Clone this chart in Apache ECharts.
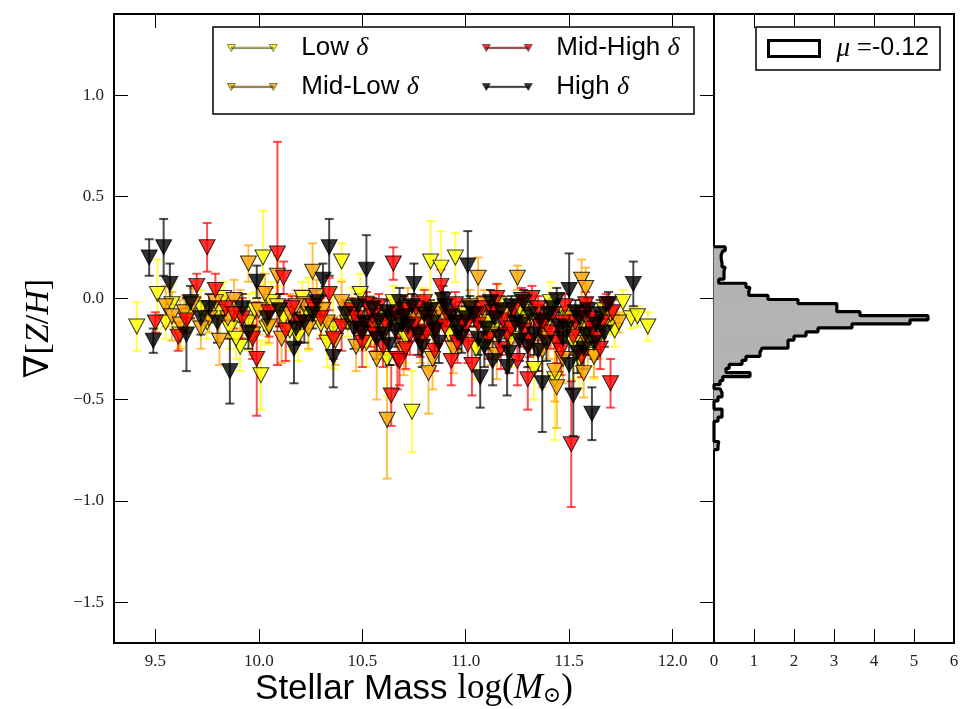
<!DOCTYPE html>
<html><head><meta charset="utf-8">
<script src="https://cdn.jsdelivr.net/npm/echarts@6/dist/echarts.min.js"></script>
<style>html,body{margin:0;padding:0;background:#fff}#c{width:962px;height:709px}</style>
</head><body><div id="c"></div>
<script>
// ---------- tick labels ----------
const xTicks = [9.5, 10.0, 10.5, 11.0, 11.5, 12.0];
const yTicks = [-1.5, -1.0, -0.5, 0.0, 0.5, 1.0];
const histTicks = [0, 1, 2, 3, 4, 5, 6];

// ---------- Low delta ----------
const lowX = [9.41,9.51,9.55,9.62,9.72,9.80,9.86,9.91,9.95,10.01,10.02,10.06,10.12,10.19,10.24,10.30,10.36,10.40,10.45,10.52,10.58,10.62,10.68,10.74,10.79,10.83,10.88,10.92,10.95,11.00,11.05,11.10,11.16,11.22,11.28,11.33,11.38,11.43,11.48,11.52,11.57,11.62,11.67,11.72,11.76,11.80,11.83,11.88,
  9.58,9.66,9.75,9.83,9.89,9.98,10.04,10.09,10.15,10.21,10.27,10.33,10.43,10.49,10.55,10.65,10.71,10.85,11.13,11.26,11.41,11.55,11.70];
const lowY = [-0.14,0.02,-0.12,-0.18,-0.05,-0.07,-0.15,-0.24,-0.12,-0.38,0.20,-0.02,-0.10,-0.19,-0.08,-0.13,-0.15,0.18,-0.05,-0.22,-0.10,-0.30,-0.12,-0.56,-0.07,0.18,0.15,-0.18,0.20,-0.08,-0.25,-0.12,-0.03,-0.20,-0.10,-0.35,-0.15,-0.40,-0.08,-0.22,-0.12,-0.28,-0.06,-0.16,-0.02,-0.10,-0.09,-0.14,
  -0.03,-0.09,-0.12,0.00,-0.20,-0.06,-0.15,-0.04,-0.16,0.00,-0.06,-0.22,-0.12,0.02,-0.14,-0.02,-0.20,-0.10,-0.16,-0.05,-0.02,-0.30,-0.12];
const lowErr = [0.12,0.17,0.08,0.06,0.09,0.05,0.10,0.12,0.14,0.17,0.23,0.10,0.07,0.12,0.18,0.05,0.20,0.09,0.10,0.12,0.06,0.18,0.08,0.20,0.12,0.20,0.18,0.10,0.12,0.06,0.15,0.08,0.10,0.14,0.05,0.15,0.10,0.30,0.07,0.18,0.05,0.12,0.06,0.08,0.06,0.05,0.05,0.07,
  0.10,0.07,0.08,0.08,0.10,0.09,0.08,0.10,0.10,0.08,0.07,0.12,0.07,0.10,0.10,0.08,0.12,0.08,0.10,0.07,0.10,0.15,0.06];

// ---------- Mid-Low delta ----------
const midLowX = [9.55,9.58,9.62,9.68,9.76,9.81,9.88,9.95,10.00,10.05,10.09,10.15,10.22,10.26,10.28,10.33,10.37,10.44,10.50,10.57,10.62,10.67,10.72,10.78,10.82,10.84,10.90,10.97,11.02,11.06,11.12,11.18,11.25,11.30,11.37,11.43,11.44,11.50,11.56,11.58,11.59,11.62,11.57,11.66,11.70,
  9.64,9.72,9.79,9.85,9.91,9.97,10.03,10.11,10.18,10.24,10.31,10.40,10.47,10.54,10.60,10.70,10.76,10.87,10.94,11.09,11.15,11.21,11.34,11.40,11.47,11.53,11.64,11.74];
const midLowY = [-0.04,-0.09,-0.13,-0.03,-0.10,-0.21,-0.01,0.17,-0.06,-0.14,0.11,-0.08,-0.03,0.13,0.01,-0.12,-0.21,-0.08,-0.16,-0.30,-0.60,-0.12,-0.05,-0.20,-0.37,-0.30,-0.10,-0.14,-0.04,0.10,-0.18,-0.08,0.10,-0.12,-0.26,-0.36,-0.44,-0.10,0.09,0.05,-0.22,-0.29,-0.37,-0.14,-0.08,
  -0.07,-0.15,-0.02,-0.10,-0.08,-0.18,0.02,-0.20,-0.04,-0.15,-0.06,-0.02,-0.24,-0.06,-0.15,-0.26,-0.10,-0.06,-0.25,-0.03,-0.28,-0.15,-0.07,-0.20,-0.30,-0.16,-0.20,-0.12];
const midLowErr = [0.10,0.12,0.12,0.08,0.07,0.12,0.10,0.09,0.12,0.08,0.10,0.10,0.07,0.14,0.08,0.10,0.12,0.06,0.10,0.20,0.29,0.08,0.10,0.12,0.20,0.15,0.06,0.12,0.08,0.10,0.15,0.05,0.06,0.10,0.18,0.15,0.20,0.06,0.10,0.10,0.12,0.10,0.12,0.06,0.05,
  0.08,0.10,0.08,0.10,0.12,0.10,0.10,0.12,0.08,0.10,0.08,0.10,0.12,0.07,0.10,0.12,0.07,0.08,0.12,0.07,0.12,0.08,0.08,0.10,0.12,0.08,0.10,0.05];

// ---------- Mid-High delta ----------
const midHighX = [9.50,9.61,9.70,9.75,9.79,9.84,9.92,9.97,9.99,10.05,10.09,10.12,10.13,10.20,10.26,10.30,10.34,10.40,10.45,10.50,10.54,10.58,10.64,10.65,10.67,10.68,10.73,10.78,10.82,10.88,10.93,10.98,11.03,11.08,11.15,11.20,11.25,11.30,11.32,11.38,11.44,11.48,11.51,11.56,11.60,11.66,11.70,11.71,
  10.47,10.52,10.56,10.61,10.70,10.75,10.80,10.86,10.91,10.96,11.00,11.05,11.11,11.18,11.23,11.28,11.35,11.41,11.46,11.53,11.58,11.63,11.68,10.16,10.36,9.88,9.65,
  10.49,10.55,10.60,10.66,10.71,10.76,10.81,10.85,10.90,10.95,11.01,11.06,11.13,11.17,11.22,11.27,11.31,11.36,11.42,11.47,11.52,11.57,11.61,11.65];
const midHighY = [-0.12,-0.19,0.06,0.25,0.04,-0.05,-0.10,-0.20,-0.30,-0.07,0.22,0.10,-0.16,-0.12,-0.04,-0.10,0.02,-0.14,-0.06,-0.22,-0.14,-0.04,-0.48,0.17,-0.30,-0.31,-0.18,-0.21,-0.10,0.06,-0.31,-0.12,-0.33,-0.05,0.00,-0.18,-0.31,-0.40,0.00,-0.12,-0.22,-0.04,-0.72,-0.29,-0.10,-0.12,-0.42,-0.07,
  -0.10,-0.03,-0.18,-0.12,-0.06,-0.13,-0.02,-0.15,-0.08,-0.22,-0.14,-0.08,-0.20,-0.11,-0.06,-0.16,-0.05,-0.17,-0.26,-0.12,-0.03,-0.20,-0.03,-0.05,-0.20,-0.08,-0.11,
  -0.16,-0.09,-0.24,-0.08,-0.25,-0.05,-0.17,-0.26,-0.14,-0.03,-0.23,-0.13,-0.07,-0.25,-0.15,-0.01,-0.21,-0.14,-0.08,-0.12,-0.19,-0.08,-0.15,-0.25];
const midHighErr = [0.05,0.07,0.06,0.12,0.08,0.06,0.10,0.10,0.28,0.12,0.55,0.08,0.15,0.10,0.07,0.10,0.08,0.12,0.06,0.12,0.10,0.06,0.15,0.08,0.15,0.12,0.10,0.08,0.06,0.08,0.12,0.10,0.15,0.06,0.07,0.10,0.12,0.15,0.06,0.08,0.10,0.06,0.31,0.10,0.08,0.07,0.12,0.06,
  0.07,0.06,0.08,0.06,0.07,0.08,0.06,0.08,0.06,0.10,0.07,0.06,0.10,0.07,0.05,0.08,0.06,0.08,0.12,0.07,0.06,0.09,0.05,0.06,0.10,0.07,0.06,
  0.07,0.06,0.10,0.06,0.10,0.06,0.08,0.10,0.07,0.06,0.09,0.07,0.06,0.10,0.07,0.06,0.08,0.07,0.06,0.07,0.08,0.06,0.07,0.10];

// ---------- High delta ----------
const highX = [9.47,9.49,9.54,9.57,9.65,9.67,9.72,9.80,9.86,9.92,9.99,10.04,10.10,10.17,10.22,10.28,10.31,10.34,10.36,10.42,10.46,10.52,10.55,10.60,10.64,10.68,10.72,10.75,10.80,10.85,10.90,10.95,11.01,11.04,11.07,11.10,11.13,11.17,11.20,11.24,11.28,11.33,11.37,11.40,11.45,11.50,11.50,11.52,11.55,11.58,11.61,11.65,11.69,11.81,
  10.48,10.51,10.57,10.62,10.66,10.70,10.77,10.83,10.87,10.93,10.98,11.02,11.09,11.14,11.22,11.26,11.31,11.35,11.42,11.47,11.53,11.57,11.63,10.18,10.26,9.95,9.76,
  10.50,10.58,10.63,10.69,10.74,10.79,10.84,10.89,10.96,11.00,11.06,11.12,11.16,11.21,11.27,11.30,11.36,11.39,11.44,11.49,11.54,11.59,11.62,11.67];
const highY = [0.20,-0.21,0.25,0.07,-0.18,-0.02,-0.10,-0.12,-0.36,-0.05,0.08,-0.10,-0.06,-0.25,-0.12,-0.02,0.09,0.25,-0.29,-0.08,-0.15,0.14,-0.05,-0.18,-0.10,-0.02,-0.14,0.07,-0.08,-0.16,-0.04,-0.12,0.16,-0.08,-0.39,-0.15,-0.31,-0.06,-0.34,-0.12,-0.02,-0.18,-0.42,-0.08,-0.14,0.04,-0.33,-0.48,-0.10,-0.18,-0.57,-0.08,-0.03,0.07,
  -0.04,-0.12,-0.20,-0.07,-0.16,-0.09,-0.18,-0.06,-0.22,-0.09,-0.19,-0.05,-0.24,-0.10,-0.04,-0.21,-0.08,-0.26,-0.05,-0.20,-0.07,-0.25,-0.13,-0.15,-0.08,-0.17,-0.05,
  -0.17,-0.11,-0.23,-0.13,-0.04,-0.24,-0.12,-0.01,-0.17,-0.10,-0.20,-0.02,-0.19,-0.27,-0.13,-0.24,-0.11,-0.22,-0.01,-0.15,-0.27,-0.06,-0.22,-0.17];
const highErr = [0.09,0.06,0.14,0.10,0.18,0.08,0.08,0.10,0.16,0.07,0.08,0.06,0.08,0.17,0.10,0.06,0.08,0.14,0.15,0.07,0.10,0.17,0.05,0.10,0.06,0.07,0.08,0.10,0.06,0.10,0.07,0.08,0.17,0.06,0.15,0.10,0.12,0.07,0.14,0.08,0.06,0.10,0.24,0.07,0.08,0.18,0.12,0.20,0.06,0.10,0.13,0.07,0.06,0.11,
  0.06,0.08,0.10,0.06,0.08,0.06,0.10,0.05,0.10,0.06,0.08,0.06,0.10,0.06,0.05,0.10,0.06,0.10,0.05,0.08,0.06,0.10,0.06,0.08,0.07,0.08,0.07,
  0.07,0.06,0.10,0.07,0.06,0.10,0.06,0.07,0.08,0.06,0.08,0.06,0.09,0.10,0.07,0.10,0.06,0.09,0.06,0.07,0.10,0.06,0.08,0.07];

// ---------- histogram of gradients (normalised), bins from bottom up ----------
const histBottom = -0.747;
const histBinWidth = 0.02;
const histCounts = [0.1,0.12,0,0,0,0,0,0.1,0.2,0.2,0,0,0.1,0.2,0.15,0,0.15,0.22,0.9,0.3,0.38,0.7,0.8,1.15,1.2,1.85,1.85,2.0,2.3,2.6,3.45,4.9,5.35,3.65,3.07,3.07,2.1,1.35,0.87,0.9,0.8,0.12,0.25,0.25,0.28,0.2,0.18,0.18,0.22,0.28];
const histMean = '-0.12';

// ---------- drawing ----------
const serif = "'Liberation Serif','DejaVu Serif',serif";
const sans = "'Liberation Sans','DejaVu Sans',sans-serif";
function fmt(v){ return (v < 0 ? '\u2212' : '') + Math.abs(v).toFixed(1); }

const groups = [
  {id:'low', color:'#ffff00', x:lowX, y:lowY, e:lowErr},
  {id:'midlow', color:'#ffa500', x:midLowX, y:midLowY, e:midLowErr},
  {id:'midhigh', color:'#ff0000', x:midHighX, y:midHighY, e:midHighErr},
  {id:'high', color:'#000000', x:highX, y:highY, e:highErr}
];

function errRender(color){
  return function(params, api){
    const x = api.value(0), y = api.value(1), e = api.value(2);
    const t = api.coord([x, y + e]), b = api.coord([x, y - e]);
    const hw = 4.5;
    const st = {stroke: color, lineWidth: 2, opacity: 0.7};
    return {type:'group', children:[
      {type:'line', shape:{x1:t[0], y1:t[1], x2:b[0], y2:b[1]}, style:st},
      {type:'line', shape:{x1:t[0]-hw, y1:t[1], x2:t[0]+hw, y2:t[1]}, style:st},
      {type:'line', shape:{x1:b[0]-hw, y1:b[1], x2:b[0]+hw, y2:b[1]}, style:st}
    ]};
  };
}

const series = [];
groups.forEach(g => {
  series.push({
    type:'custom', name:g.id + '_err', xAxisIndex:0, yAxisIndex:0, silent:true,
    data: g.x.map((x,i) => [x, g.y[i], g.e[i]]), encode:{x:0, y:1},
    renderItem: errRender(g.color), z:2
  });
  series.push({
    type:'scatter', name:g.id, xAxisIndex:0, yAxisIndex:0, silent:true,
    data: g.x.map((x,i) => [x, g.y[i]]),
    symbol:'triangle', symbolRotate:180, symbolSize:[16,15],
    itemStyle:{color:g.color, borderColor:'#000', borderWidth:1, opacity:0.8}, z:2
  });
});

const histData = histCounts.map((c,i) => [c, histBottom + i*histBinWidth, histBottom + (i+1)*histBinWidth]);
series.push({
  type:'custom', name:'hist', xAxisIndex:2, yAxisIndex:2, silent:true,
  data: histData, encode:{x:0, y:[1,2]},
  renderItem: function(params, api){
    const c = api.value(0), lo = api.value(1), hi = api.value(2);
    const p0 = api.coord([0, hi]), p1 = api.coord([c, lo]);
    return {type:'rect', shape:{x:p0[0], y:p0[1], width:p1[0]-p0[0], height:p1[1]-p0[1]},
      style:{fill:'#b3b3b3', stroke:'#b3b3b3', lineWidth:1}};
  }, z:2
});
const outline = [[0, histBottom]];
histCounts.forEach((c,i) => {
  outline.push([c, histBottom + i*histBinWidth]);
  outline.push([c, histBottom + (i+1)*histBinWidth]);
});
outline.push([0, histBottom + histCounts.length*histBinWidth]);
series.push({
  type:'line', name:'histOutline', xAxisIndex:2, yAxisIndex:2, silent:true,
  data: outline, symbol:'none', lineStyle:{color:'#000', width:3.2}, z:3
});

const legendIcon = 'path://M0,0L8,0L4,7Z M4,2.7L46,2.7L46,4.1L4,4.1Z M42,0L50,0L46,7Z';
const legendNames = {
  low:'{a|Low }{d|δ}', midlow:'{a|Mid-Low }{d|δ}',
  midhigh:'{a|Mid-High }{d|δ}', high:'{a|High }{d|δ}'
};
const legRich = {
  a:{fontFamily:sans, fontSize:26, color:'#000', lineHeight:28, padding:[0,0,0,19]},
  d:{fontFamily:serif, fontStyle:'italic', fontSize:26, color:'#000', lineHeight:28}
};
function mainLegend(names, left){
  return {
    data: names, orient:'vertical', left:left, top:34, padding:0,
    itemWidth:50, itemHeight:7, itemGap:11,
    icon: legendIcon, symbolRotate:0, selectedMode:false, z:6,
    itemStyle:{borderColor:'#000', borderWidth:0.6},
    formatter: n => legendNames[n],
    textStyle:{fontSize:26, lineHeight:28, rich:legRich}
  };
}

const tickStyle = {show:true, inside:true, length:14, lineStyle:{color:'#000', width:1}};
const labelStyle = {fontFamily:serif, fontSize:17, color:'#222'};
const noLine = {show:false, onZero:false};

const option = {
  animation:false,
  backgroundColor:'#fff',
  grid:[
    {left:114, top:14, width:600, height:629, show:true, borderColor:'#000', borderWidth:2, backgroundColor:'transparent', outerBoundsMode:'none', containLabel:false},
    {left:714, top:14, width:240, height:629, show:true, borderColor:'#000', borderWidth:2, backgroundColor:'transparent', outerBoundsMode:'none', containLabel:false}
  ],
  xAxis:[
    {type:'value', gridIndex:0, position:'bottom', min:9.3, max:12.2,
      axisLine:noLine, splitLine:{show:false},
      axisTick:Object.assign({customValues:xTicks}, tickStyle),
      axisLabel:Object.assign({customValues:xTicks, margin:10, formatter:v => v.toFixed(1)}, labelStyle),
      name:'{a|Stellar Mass }{s|log(}{i|M}{sub|⊙}{s|)}', nameLocation:'middle', nameGap:28, nameMoveOverlap:false,
      nameTextStyle:{rich:{
        a:{fontFamily:sans, fontSize:35, color:'#000'},
        s:{fontFamily:serif, fontSize:35, color:'#000'},
        i:{fontFamily:serif, fontStyle:'italic', fontSize:35, color:'#000'},
        sub:{fontFamily:serif, fontSize:22, color:'#000', padding:[14,0,0,0]}
      }}},
    {type:'value', gridIndex:0, position:'top', min:9.3, max:12.2,
      axisLine:noLine, splitLine:{show:false},
      axisTick:Object.assign({customValues:xTicks}, tickStyle), axisLabel:{show:false}},
    {type:'value', gridIndex:1, position:'bottom', min:0, max:6, interval:1,
      axisLine:noLine, splitLine:{show:false},
      axisTick:tickStyle,
      axisLabel:Object.assign({margin:10, formatter:v => String(v)}, labelStyle)},
    {type:'value', gridIndex:1, position:'top', min:0, max:6, interval:1,
      axisLine:noLine, splitLine:{show:false},
      axisTick:tickStyle, axisLabel:{show:false}}
  ],
  yAxis:[
    {type:'value', gridIndex:0, position:'left', min:-1.7, max:1.4,
      axisLine:noLine, splitLine:{show:false},
      axisTick:Object.assign({customValues:yTicks}, tickStyle),
      axisLabel:Object.assign({customValues:yTicks, margin:10, formatter:fmt}, labelStyle),
      name:'{s|∇[}{i|Z}{s|/}{i|H}{s|]}', nameLocation:'middle', nameGap:58, nameRotate:90, nameMoveOverlap:false,
      nameTextStyle:{rich:{
        s:{fontFamily:serif, fontSize:34, color:'#000'},
        i:{fontFamily:serif, fontStyle:'italic', fontSize:34, color:'#000'}
      }}},
    {type:'value', gridIndex:0, position:'right', min:-1.7, max:1.4,
      axisLine:noLine, splitLine:{show:false},
      axisTick:Object.assign({customValues:yTicks}, tickStyle), axisLabel:{show:false}},
    {type:'value', gridIndex:1, position:'left', min:-1.7, max:1.4,
      axisLine:noLine, splitLine:{show:false}, axisTick:{show:false}, axisLabel:{show:false}}
  ],
  graphic:[
    {type:'rect', shape:{x:213, y:27, width:481, height:87}, style:{fill:'#fff', stroke:'#000', lineWidth:1.5}, z:5}
  ],
  legend:[
    mainLegend(['low','midlow'], 227),
    mainLegend(['midhigh','high'], 482),
    {data:['hist'], left:756, top:27, padding:[8,11,8,11], orient:'horizontal',
      borderColor:'#000', borderWidth:1.5, backgroundColor:'#fff', z:6,
      icon:'rect', itemWidth:51, itemHeight:16, selectedMode:false,
      itemStyle:{color:'#fff', borderColor:'#000', borderWidth:3},
      formatter: () => '{m|μ}{e| =}{n|' + histMean + '}',
      textStyle:{fontSize:25, lineHeight:25, rich:{
        m:{fontFamily:serif, fontStyle:'italic', fontSize:27, color:'#000', lineHeight:25, padding:[0,0,0,12]},
        e:{fontFamily:serif, fontSize:27, color:'#000', lineHeight:25},
        n:{fontFamily:sans, fontSize:25, color:'#000', lineHeight:25}
      }}}
  ],
  series: series
};
const chart = echarts.init(document.getElementById('c'));
chart.setOption(option);
</script>
</body></html>
